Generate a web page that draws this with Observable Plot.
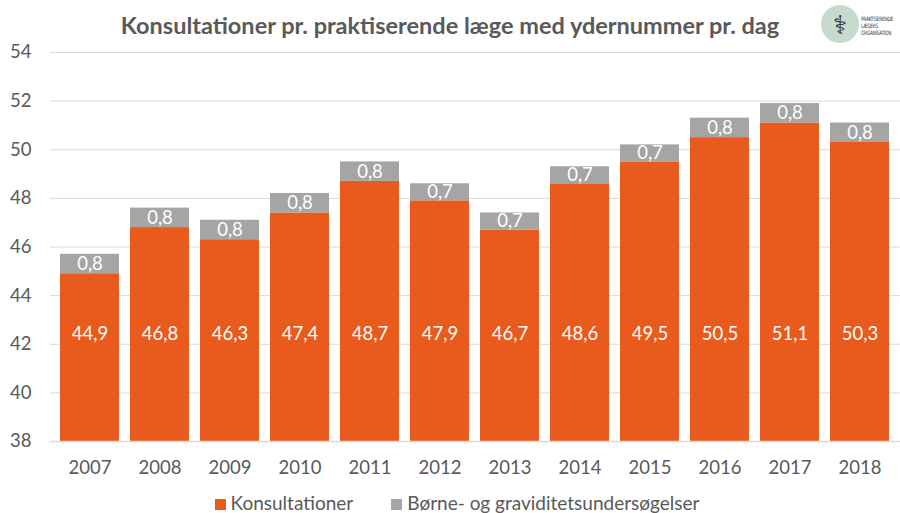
<!DOCTYPE html>
<html><head><meta charset="utf-8">
<script src="https://cdn.jsdelivr.net/npm/d3@7"></script>
<script src="https://cdn.jsdelivr.net/npm/@observablehq/plot@0.6"></script>
<style>
body{margin:0;background:#fff;font-family:Lato,"Open Sans",sans-serif;color:#595959;}
#wrap{position:relative;width:900px;height:513px;overflow:hidden;}
#title{height:40px;line-height:50px;text-align:center;font-weight:bold;font-size:23.5px;color:#595959;padding-left:0px;width:900px;}
#logo{position:absolute;left:821px;top:5px;width:79px;height:40px;}
#logo .c{position:absolute;left:0;top:0;width:38px;height:38px;border-radius:50%;background:#c6dacd;color:#333;font-size:26px;line-height:38px;text-align:center;}
#logo .t{position:absolute;left:40px;top:10px;font-family:"DejaVu Sans Condensed","DejaVu Sans",sans-serif;font-size:6px;line-height:7px;color:#333;white-space:nowrap;letter-spacing:-0.3px;transform:scaleX(0.8);transform-origin:left top;}
#legend{display:flex;justify-content:center;gap:38px;font-size:19px;height:28px;align-items:center;padding-left:14px;margin-top:7px;}
#legend span.sw{display:inline-block;width:11px;height:11px;margin-right:5px;}
svg{display:block;}
</style></head>
<body><div id="wrap">
<div id="title">Konsultationer pr. praktiserende læge med ydernummer pr. dag</div>
<div id="logo"><div class="c">⚕</div><div class="t">PRAKTISERENDE<br>LÆGERS<br>ORGANISATION</div></div>
<div id="chart"></div>
<div id="legend"></div>
</div>
<script>
const years = ["2007","2008","2009","2010","2011","2012","2013","2014","2015","2016","2017","2018"];
const konsultationer = [44.9,46.8,46.3,47.4,48.7,47.9,46.7,48.6,49.5,50.5,51.1,50.3];
const boerne = [0.8,0.8,0.8,0.8,0.8,0.7,0.7,0.7,0.7,0.8,0.8,0.8];
const seriesNames = ["Konsultationer","Børne- og graviditetsundersøgelser"];
const colors = ["#E95A1D","#A5A5A5"];
const yTicks = [38,40,42,44,46,48,50,52,54];
const base = 38;
const labelY = 42.4;

const fmt = v => v.toFixed(1).replace(".", ",");
const rows = [];
years.forEach((yr,i)=>{
  rows.push({year:yr, s:seriesNames[0], y1:base, y2:konsultationer[i], v:konsultationer[i], ly:labelY});
  rows.push({year:yr, s:seriesNames[1], y1:konsultationer[i], y2:konsultationer[i]+boerne[i], v:boerne[i], ly:konsultationer[i]+boerne[i]/2});
});

const plot = Plot.plot({
  width:900, height:441,
  marginTop:12, marginBottom:40, marginLeft:50, marginRight:0,
  style:{fontFamily:'Lato,"Open Sans",sans-serif', fontSize:"18px", color:"#595959", background:"#fff"},
  x:{domain:years, paddingInner:0.155, paddingOuter:0.07, label:null},
  y:{domain:[38,54], ticks:yTicks, label:null},
  color:{domain:seriesNames, range:colors},
  marks:[
    Plot.gridY(yTicks.filter(t=>t>base), {stroke:"#d9d9d9", strokeOpacity:1, strokeWidth:1}),
    Plot.rectY(rows, {x:"year", y1:"y1", y2:"y2", fill:"s"}),
    Plot.ruleY([base], {stroke:"#d9d9d9", strokeWidth:1.5}),
    Plot.text(rows, {x:"year", y:"ly", text:d=>fmt(d.v), fill:"white", fontSize:18.5}),
    Plot.axisX({tickSize:0, tickPadding:19, fontSize:18.5}),
    Plot.axisY({ticks:yTicks, tickSize:0, tickPadding:19, fontSize:18.5, tickFormat:d=>String(d)})
  ]
});
document.getElementById("chart").appendChild(plot);

const lg = document.getElementById("legend");
seriesNames.forEach((n,i)=>{
  const d=document.createElement("div");
  d.innerHTML=`<span class="sw" style="background:${colors[i]}"></span>${n}`;
  lg.appendChild(d);
});
</script>
</body></html>
